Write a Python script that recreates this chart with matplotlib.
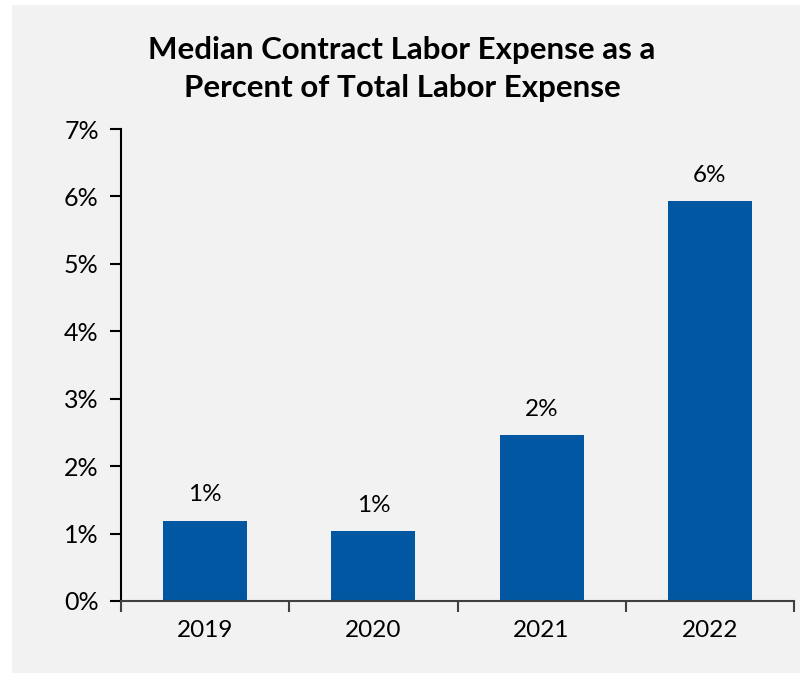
import matplotlib.pyplot as plt
from matplotlib.patches import Rectangle
from matplotlib.ticker import FuncFormatter

years = ['2019', '2020', '2021', '2022']
pct = [1.19, 1.04, 2.46, 5.93]
bar_labels = ['1%', '1%', '2%', '6%']

plt.rcParams['font.family'] = ['Lato', 'DejaVu Sans']

fig = plt.figure(figsize=(8, 6.73), dpi=100)
fig.patch.set_facecolor('white')
# grey panel behind the chart
fig.patches.append(Rectangle((12 / 800, 0), 1, 1 - 5 / 673, transform=fig.transFigure,
                             facecolor='#f2f2f2', edgecolor='none', zorder=-1))

ax = fig.add_axes([121 / 800, 1 - 601 / 673, (794 - 121) / 800, (601 - 129) / 673])
ax.set_facecolor('#f2f2f2')

x = range(len(years))
bars = ax.bar(x, pct, width=0.5, color='#0157a2', zorder=2)
for b, lab in zip(bars, bar_labels):
    ax.annotate(lab, (b.get_x() + b.get_width() / 2, b.get_height()),
                xytext=(0, 11), textcoords='offset points',
                ha='center', va='bottom', fontsize=17.5)

ax.set_xlim(-0.5, 3.5)
ax.set_ylim(0, 7)
ax.set_yticks(range(0, 8))
ax.yaxis.set_major_formatter(FuncFormatter(lambda v, p: f'{int(v)}%'))
ax.set_xticks(list(x))
ax.set_xticklabels(years)
ax.set_xticks([-0.5, 0.5, 1.5, 2.5, 3.5], minor=True)
ax.tick_params(axis='x', which='major', length=0, pad=14, labelsize=17.5)
ax.tick_params(axis='x', which='minor', length=8, width=1.5, color='#404040')
ax.tick_params(axis='y', length=8, width=1.5, labelsize=18, pad=8)

for s in ['top', 'right']:
    ax.spines[s].set_visible(False)
ax.spines['left'].set_linewidth(1.5)
ax.spines['bottom'].set_linewidth(1.5)
ax.spines['bottom'].set_color('#404040')

fig.text(402 / 800, 1 - 69 / 673,
         'Median Contract Labor Expense as a\nPercent of Total Labor Expense',
         ha='center', va='center', fontsize=22.5, fontweight='bold', linespacing=1.42)

fig.savefig('out.png', dpi=100)
